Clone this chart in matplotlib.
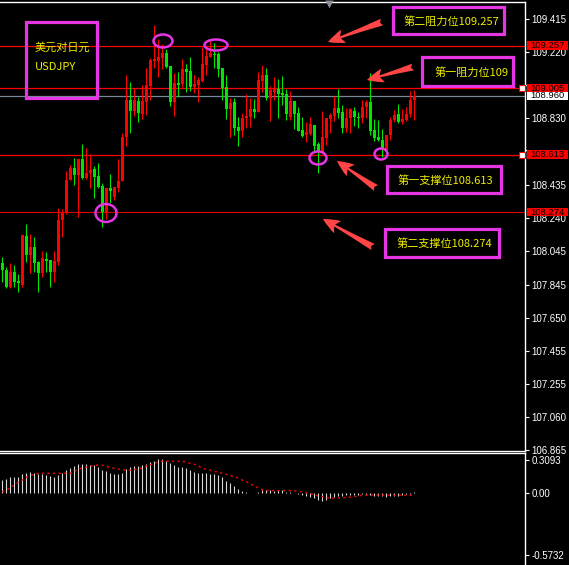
import matplotlib
matplotlib.use("Agg")
import matplotlib.pyplot as plt
import matplotlib.transforms as mtransforms
from matplotlib.patches import Rectangle, Ellipse, FancyArrowPatch
import numpy as np

# ---------------- data ----------------
opens = [
107.973, 107.931, 107.831, 107.919, 107.866, 107.843, 108.132, 108.020, 108.067, 107.979,
107.914, 107.996, 107.991, 107.919, 107.979, 108.227, 108.268, 108.463, 108.534, 108.493,
108.587, 108.475, 108.505, 108.528, 108.487, 108.428, 108.274, 108.416, 108.363, 108.416,
108.457, 108.717, 108.936, 108.871, 108.930, 108.853, 108.924, 109.019, 109.166, 109.166,
109.184, 109.214, 109.137, 108.924, 109.036, 109.031, 109.119, 109.107, 109.013, 109.025,
109.048, 109.143, 109.190, 109.208, 109.208, 109.125, 109.013, 108.883, 108.924, 108.776,
108.753, 108.830, 108.836, 108.883, 108.865, 109.048, 109.084, 108.948, 108.983, 109.001,
108.977, 108.971, 108.836, 108.930, 108.859, 108.759, 108.729, 108.735, 108.788, 108.676,
108.623, 108.711, 108.824, 108.841, 108.889, 108.865, 108.770, 108.830, 108.871, 108.836,
108.830, 108.895, 108.924, 108.759, 108.717, 108.700, 108.640, 108.729, 108.818, 108.853,
108.806, 108.818, 108.853, 108.936]
highs = [
108.008, 107.949, 107.973, 107.961, 107.907, 108.138, 108.203, 108.144, 108.126, 107.985,
108.044, 108.038, 107.991, 108.044, 108.298, 108.292, 108.516, 108.552, 108.593, 108.587,
108.676, 108.652, 108.617, 108.546, 108.564, 108.446, 108.416, 108.499, 108.422, 108.587,
108.741, 109.084, 109.042, 109.007, 108.954, 109.025, 109.125, 109.184, 109.379, 109.297,
109.267, 109.238, 109.137, 109.095, 109.102, 109.178, 109.149, 109.190, 109.084, 109.072,
109.249, 109.249, 109.291, 109.273, 109.220, 109.125, 109.084, 108.948, 108.948, 108.836,
108.859, 108.971, 108.948, 108.942, 109.102, 109.143, 109.125, 109.019, 109.072, 109.060,
109.078, 109.001, 108.989, 108.930, 108.895, 108.836, 108.806, 108.836, 108.788, 108.688,
108.871, 108.830, 108.859, 108.960, 109.001, 108.906, 108.889, 108.889, 108.895, 108.865,
108.936, 108.936, 109.096, 108.824, 108.818, 108.765, 108.729, 108.836, 108.877, 108.912,
108.883, 108.895, 108.989, 108.995]
lows = [
107.860, 107.825, 107.825, 107.831, 107.801, 107.831, 107.979, 107.914, 107.919, 107.801,
107.890, 107.919, 107.831, 107.860, 107.961, 108.126, 108.262, 108.463, 108.434, 108.244,
108.469, 108.469, 108.416, 108.357, 108.416, 108.186, 108.233, 108.327, 108.345, 108.392,
108.457, 108.664, 108.741, 108.841, 108.806, 108.824, 108.847, 108.936, 109.125, 109.072,
109.119, 109.125, 108.901, 108.841, 108.954, 109.013, 108.983, 108.989, 108.977, 108.924,
109.042, 109.084, 109.190, 109.125, 109.072, 108.936, 108.824, 108.717, 108.729, 108.664,
108.717, 108.770, 108.776, 108.830, 108.865, 108.983, 108.936, 108.812, 108.936, 108.830,
108.906, 108.818, 108.818, 108.765, 108.753, 108.717, 108.688, 108.729, 108.629, 108.505,
108.623, 108.670, 108.741, 108.812, 108.830, 108.741, 108.747, 108.741, 108.782, 108.770,
108.800, 108.830, 108.729, 108.694, 108.694, 108.599, 108.629, 108.700, 108.806, 108.800,
108.794, 108.812, 108.835, 108.818]
closes = [
107.931, 107.831, 107.919, 107.860, 107.854, 108.138, 108.020, 108.067, 107.973, 107.914,
108.002, 107.985, 107.919, 107.985, 108.227, 108.268, 108.463, 108.534, 108.493, 108.587,
108.475, 108.505, 108.522, 108.481, 108.422, 108.274, 108.416, 108.398, 108.422, 108.457,
108.717, 108.936, 108.871, 108.936, 108.859, 108.930, 109.025, 109.172, 109.178, 109.190,
109.214, 109.131, 108.924, 109.036, 109.025, 109.119, 109.102, 109.013, 109.031, 109.054,
109.149, 109.196, 109.214, 109.202, 109.119, 109.007, 108.883, 108.918, 108.770, 108.753,
108.830, 108.841, 108.883, 108.865, 109.054, 109.084, 108.948, 108.995, 109.007, 108.971,
108.966, 108.853, 108.930, 108.853, 108.753, 108.723, 108.747, 108.794, 108.664, 108.629,
108.717, 108.830, 108.847, 108.889, 108.859, 108.770, 108.830, 108.883, 108.836, 108.830,
108.895, 108.924, 108.753, 108.711, 108.700, 108.640, 108.729, 108.818, 108.847, 108.806,
108.824, 108.853, 108.936, 108.960]

macd_hist = [
0.122, 0.131, 0.150, 0.150, 0.150, 0.178, 0.188, 0.197, 0.188, 0.178,
0.178, 0.169, 0.160, 0.150, 0.169, 0.188, 0.216, 0.235, 0.254, 0.272,
0.272, 0.272, 0.263, 0.263, 0.244, 0.216, 0.207, 0.188, 0.178, 0.178,
0.188, 0.225, 0.244, 0.254, 0.254, 0.263, 0.272, 0.291, 0.300, 0.310,
0.319, 0.300, 0.282, 0.263, 0.244, 0.244, 0.235, 0.216, 0.197, 0.188,
0.188, 0.188, 0.178, 0.178, 0.169, 0.150, 0.113, 0.094, 0.066, 0.038,
0.019, 0.009, 0.002, 0.000, 0.009, 0.028, 0.028, 0.028, 0.019, 0.028,
0.028, 0.009, 0.006, 0.003, -0.010, -0.022, -0.031, -0.038, -0.047, -0.063,
-0.072, -0.063, -0.047, -0.038, -0.025, -0.025, -0.022, -0.019, -0.016, -0.016,
-0.013, -0.022, -0.022, -0.031, -0.028, -0.031, -0.034, -0.031, -0.025, -0.025,
-0.019, -0.013, -0.009, 0.009]
macd_signal = [
0.009, 0.028, 0.050, 0.075, 0.097, 0.119, 0.144, 0.160, 0.172, 0.182,
0.182, 0.182, 0.182, 0.182, 0.182, 0.182, 0.182, 0.182, 0.200, 0.219,
0.232, 0.241, 0.247, 0.257, 0.257, 0.257, 0.247, 0.235, 0.228, 0.222,
0.216, 0.210, 0.210, 0.216, 0.222, 0.232, 0.247, 0.260, 0.275, 0.285,
0.294, 0.294, 0.294, 0.294, 0.294, 0.294, 0.285, 0.275, 0.266, 0.250,
0.232, 0.219, 0.210, 0.200, 0.191, 0.182, 0.172, 0.163, 0.150, 0.138,
0.119, 0.106, 0.085, 0.063, 0.047, 0.031, 0.022, 0.022, 0.022, 0.022,
0.022, 0.022, 0.022, 0.019, 0.016, 0.009, 0.003, -0.006, -0.016, -0.028,
-0.034, -0.044, -0.047, -0.050, -0.047, -0.044, -0.041, -0.038, -0.034, -0.028,
-0.022, -0.019, -0.019, -0.019, -0.019, -0.020, -0.020, -0.020, -0.021, -0.021,
-0.022, -0.022, -0.021, -0.021]

price_ticks = [109.415, 109.220, 109.025, 108.830, 108.640, 108.435, 108.240,
               108.045, 107.845, 107.650, 107.455, 107.255, 107.060, 106.865]
hidden_ticks = [109.025, 108.640]   # covered by the price tags in the reference
macd_ticks = [0.3093, 0.0, -0.5732]
macd_tick_labels = ["0.3093", "0.00", "-0.5732"]

resistance2 = 109.257
resistance1 = 109.005
support1 = 108.613
support2 = 108.274
bid = 108.960

title_lines = ["美元对日元", "USDJPY"]
notes = ["第二阻力位109.257", "第一阻力位109", "第一支撑位108.613", "第二支撑位108.274"]

# ---------------- figure ----------------
W, H = 569, 565
fig = plt.figure(figsize=(W / 100, H / 100), dpi=100, facecolor="black")
CJK = ["Noto Sans CJK SC", "DejaVu Sans"]
TICKFONT = "Liberation Sans"

ax = fig.add_axes([0, (H - 451) / H, 525 / W, (451 - 2) / H], facecolor="black")
ax2 = fig.add_axes([0, 0, 525 / W, (H - 453) / H], facecolor="black")

n = len(opens)
x = np.arange(n)
o = np.array(opens); c = np.array(closes); hi = np.array(highs); lo = np.array(lows)
up = c >= o
cols = np.where(up, "#ff0000", "#00e600")

ax.vlines(x, lo, hi, colors=cols, lw=0.8, zorder=3)
body_h = np.maximum(np.abs(c - o), 0.006)
ax.bar(x, body_h, bottom=np.minimum(o, c), width=0.72, color=cols, lw=0, zorder=4)

ax.set_xlim(-0.575, 130.675)
ax.set_ylim(106.862, 109.515)
ax2.set_xlim(-0.575, 130.675)
ax2.set_ylim(-0.667, 0.370)

for a in (ax, ax2):
    a.spines["left"].set_visible(False)
    a.spines["right"].set_color("white")
    a.spines["top"].set_color("white")
    a.spines["right"].set_linewidth(1.0)
    a.spines["top"].set_linewidth(1.0)
    a.set_xticks([])
    a.yaxis.tick_right()
    a.tick_params(axis="y", colors="white", length=3, width=0.8, pad=1.5,
                  labelsize=7, labelcolor="white")
ax.spines["bottom"].set_color("white")
ax.spines["bottom"].set_linewidth(1.0)
ax2.spines["bottom"].set_visible(False)

ax.set_yticks(price_ticks)
ax.set_yticklabels(["" if v in hidden_ticks else "%.3f" % v for v in price_ticks],
                   fontfamily=TICKFONT)
ax2.set_yticks(macd_ticks)
ax2.set_yticklabels(macd_tick_labels, fontfamily=TICKFONT)

# level lines
for lvl in (resistance2, resistance1, support1):
    ax.axhline(lvl, color="#ff0000", lw=0.9, zorder=2)
ax.axhline(support2, color="#e00000", lw=0.8, zorder=2)
ax.axhline(bid, color="#778899", lw=0.9, zorder=2)

# price tags on the right axis
bt = mtransforms.blended_transform_factory(ax.transAxes, ax.transData)
px_per_price = (451 - 2) / (109.515 - 106.862)
tag_h = 8.6 / px_per_price
for lvl, fc in ((resistance2, "#ff0000"), (resistance1, "#ff0000"), (bid, "white"),
                (support1, "#ff0000"), (support2, "#ff0000")):
    ax.add_patch(Rectangle((527 / 525, lvl - tag_h / 2), 41 / 525, tag_h, transform=bt,
                           facecolor=fc, edgecolor="none", clip_on=False, zorder=10))
    ax.text(530 / 525, lvl, "%.3f" % lvl, transform=bt, color="black", fontsize=6.8,
            fontfamily=TICKFONT, va="center", ha="left", clip_on=False, zorder=11)
for lvl in (resistance1, support1):
    ax.plot([522 / 525], [lvl], transform=bt, marker="s", ms=4, mfc="white",
            mec="#ff0000", mew=0.8, clip_on=False, zorder=12)

# MACD
ax2.vlines(x, 0, macd_hist, colors="#d8d8d8", lw=0.8)
ax2.plot(x, macd_signal, color="#ff0000", lw=1.0, dashes=(1.6, 2.4))

# ---------------- overlay annotations (pixel space) ----------------
ov = fig.add_axes([0, 0, 1, 1])
ov.set_xlim(0, W); ov.set_ylim(H, 0)
ov.axis("off"); ov.patch.set_alpha(0)

MAG = "#e535e5"
YEL = "#eeee00"
boxes = [(26, 22, 71, 76), (393, 7, 111, 27), (422, 57, 91, 29),
         (387, 166, 114, 27), (385, 229, 114, 28)]
for bx, by, bw, bh in boxes:
    ov.add_patch(Rectangle((bx, by), bw, bh, fill=False, edgecolor=MAG, lw=2.3))

ov.text(35, 48, title_lines[0], color=YEL, fontsize=8, family=CJK, va="center", ha="left")
ov.text(35, 67, title_lines[1], color=YEL, fontsize=8, family=CJK, va="center", ha="left")
note_pos = [(404, 21), (435, 72), (398, 181), (397, 244)]
for (tx, ty), s in zip(note_pos, notes):
    ov.text(tx, ty, s, color=YEL, fontsize=8, family=CJK, va="center", ha="left")

ellipses = [(163, 41, 19, 13), (216, 45, 23, 11), (106, 213, 21, 18),
            (318, 158, 17, 13), (381, 154, 13, 11)]
for ex, ey, ew, eh in ellipses:
    ov.add_patch(Ellipse((ex, ey), ew, eh, fill=False, edgecolor=MAG, lw=1.8))

arrows = [((382, 22), (328, 42)), ((413, 67), (367, 80)),
          ((376, 188), (337, 161)), ((373, 247), (323, 219))]
for tail, tip in arrows:
    ov.add_patch(FancyArrowPatch(tail, tip, arrowstyle="fancy,head_width=1.0,head_length=1.2,tail_width=0.5",
                                 mutation_scale=10, color="#ff4545", lw=0, shrinkA=0, shrinkB=0))

ov.plot([329], [4], marker="v", ms=6, color="#8a8f99", mec="none")

fig.savefig("out.png", dpi=100, facecolor="black")
